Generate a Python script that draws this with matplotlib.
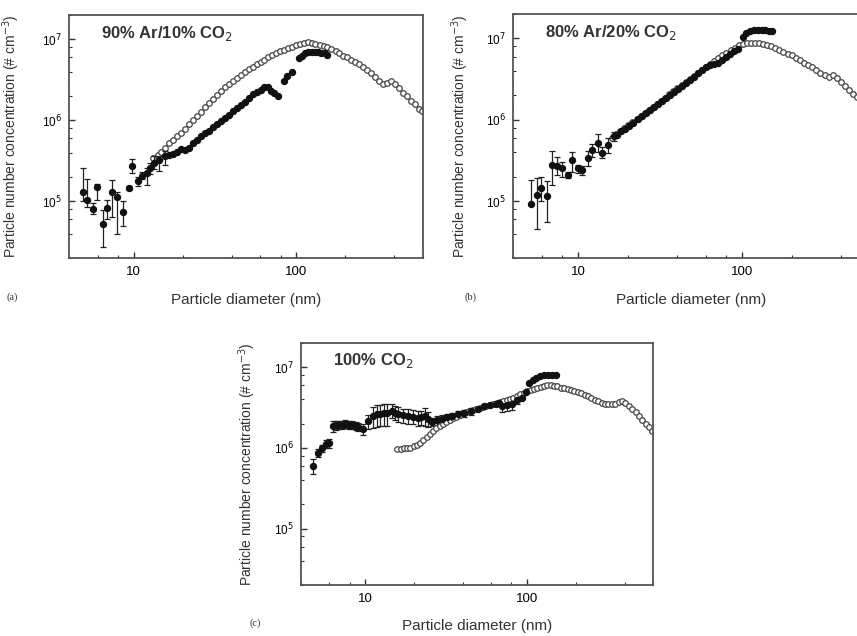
import numpy as np
import matplotlib
matplotlib.use('Agg')
import matplotlib.pyplot as plt
from matplotlib.ticker import LogLocator, NullFormatter, FixedLocator, FixedFormatter

plt.rcParams['font.family'] = ['Liberation Sans', 'DejaVu Sans']

# (a) 90% Ar / 10% CO2
a_err_d = [4.87, 5.17, 5.6, 5.95, 6.44, 6.84, 7.35, 7.87, 8.53, 9.29, 9.82, 10.6, 11.2, 12.0, 12.5, 13.4, 14.4, 15.5]
a_err_c = [1.32e5, 1.03e5, 8e4, 1.5e5, 5.2e4, 8.4e4, 1.32e5, 1.12e5, 7.4e4, 1.48e5, 2.74e5, 1.8e5, 2.08e5, 2.25e5, 2.6e5, 3e5, 3.25e5, 3.6e5]
a_err_lo = [1.0e5, 8.5e4, 7e4, 1.05e5, 2.7e4, 6e4, 6.4e4, 4e4, 5e4, 1.4e5, 2.27e5, 1.55e5, 1.9e5, 1.6e5, 2.2e5, 2.5e5, 2.4e5, 2.8e5]
a_err_hi = [2.6e5, 1.9e5, 9.5e4, 1.65e5, 7.8e4, 1.05e5, 1.85e5, 1.3e5, 1.0e5, 1.55e5, 3.3e5, 2.0e5, 2.3e5, 2.6e5, 3.0e5, 3.6e5, 3.6e5, 4.2e5]
a_fill_d = [16.5, 17.4, 18.4, 19.6, 20.8, 22.0, 23.3, 24.6, 26.0, 27.5, 29.0, 30.7, 32.5, 34.4, 36.4, 38.5, 40.7, 43.0,
            45.5, 48.1, 50.9, 53.8, 56.9, 60.2, 63.6, 67.3, 70.0, 73.0, 76.6, 83.3, 88.0, 94.6, 103, 108, 113, 118,
            124, 130, 136, 142, 149, 155]
a_fill_c = [3.7e5, 3.8e5, 4.1e5, 4.4e5, 4.3e5, 4.6e5, 5.2e5, 5.8e5, 6.5e5, 7.0e5, 7.5e5, 8.2e5, 8.9e5, 9.7e5, 1.07e6,
            1.18e6, 1.3e6, 1.42e6, 1.55e6, 1.7e6, 1.9e6, 2.1e6, 2.25e6, 2.4e6, 2.55e6, 2.6e6, 2.3e6, 2.15e6, 2.0e6,
            3.1e6, 3.5e6, 4.0e6, 5.9e6, 6.3e6, 6.7e6, 6.9e6, 7.0e6, 7.0e6, 6.9e6, 6.8e6, 6.7e6, 6.5e6]
a_open_d = [13.2, 14.0, 14.8, 15.6, 16.5, 17.4, 18.4, 19.6, 20.8, 22.0, 23.3, 24.6, 26.0, 27.5, 29.0, 30.7, 32.5, 34.4,
            36.4, 38.5, 40.7, 43.0, 45.5, 48.1, 50.9, 53.8, 56.9, 60.2, 63.6, 67.3, 71.2, 75.3, 79.6, 84.2, 89.0, 94.1,
            99.5, 105, 111, 117, 124, 131, 139, 147, 155, 164, 174, 184, 194, 205, 217, 230, 243, 257, 272, 288, 304,
            322, 340, 360, 381, 403, 426, 451, 477, 505, 534, 565, 590]
a_open_c = [3.4e5, 3.7e5, 4.1e5, 4.6e5, 5.2e5, 5.8e5, 6.4e5, 7.0e5, 7.9e5, 8.9e5, 1.0e6, 1.12e6, 1.28e6, 1.45e6, 1.65e6,
            1.85e6, 2.05e6, 2.3e6, 2.55e6, 2.8e6, 3.05e6, 3.3e6, 3.6e6, 3.95e6, 4.25e6, 4.55e6, 4.9e6, 5.25e6, 5.6e6,
            6.0e6, 6.35e6, 6.7e6, 7.1e6, 7.5e6, 7.8e6, 8.1e6, 8.5e6, 8.8e6, 9.0e6, 9.3e6, 9.0e6, 8.8e6, 8.5e6, 8.3e6,
            8.1e6, 7.6e6, 7.1e6, 6.7e6, 6.3e6, 6.0e6, 5.6e6, 5.2e6, 4.9e6, 4.55e6, 4.2e6, 3.8e6, 3.4e6, 3.1e6, 2.8e6,
            2.9e6, 3.1e6, 2.8e6, 2.5e6, 2.2e6, 2.0e6, 1.75e6, 1.6e6, 1.4e6, 1.3e6]

# (b) 80% Ar / 20% CO2
b_err_d = [5.17, 5.6, 5.95, 6.47, 6.94, 7.4, 8.0, 8.6, 9.2, 10.0, 10.6, 11.5, 12.2, 13.1, 14.0, 15.2, 16.4]
b_err_c = [9.2e4, 1.18e5, 1.45e5, 1.15e5, 2.8e5, 2.7e5, 2.55e5, 2.1e5, 3.2e5, 2.55e5, 2.4e5, 3.4e5, 4.3e5, 5.2e5, 3.9e5, 4.9e5, 6.3e5]
b_err_lo = [9.0e4, 4.5e4, 1.0e5, 5.5e4, 1.6e5, 2.1e5, 2.0e5, 1.9e5, 2.3e5, 2.2e5, 2.1e5, 2.7e5, 3.5e5, 4.0e5, 3.4e5, 3.9e5, 5.5e5]
b_err_hi = [1.8e5, 1.9e5, 2.0e5, 1.75e5, 4.1e5, 3.5e5, 3.0e5, 2.3e5, 4.0e5, 2.8e5, 2.7e5, 4.1e5, 5.1e5, 6.6e5, 4.6e5, 6.0e5, 7.0e5]
b_fill_d = [17.3, 18.3, 19.4, 20.5, 21.7, 23.0, 24.3, 25.7, 27.2, 28.8, 30.5, 32.3, 34.2, 36.2, 38.3, 40.5, 42.9, 45.4,
            48.0, 50.8, 53.8, 56.9, 60.2, 63.7, 67.4, 71.3, 75.5, 79.9, 84.5, 89.4, 94.6, 101, 106, 112, 118, 124,
            131, 138, 145, 152]
b_fill_c = [6.5e5, 7.2e5, 7.8e5, 8.4e5, 9.2e5, 1.03e6, 1.12e6, 1.22e6, 1.33e6, 1.45e6, 1.57e6, 1.7e6, 1.85e6, 2.0e6,
            2.2e6, 2.4e6, 2.6e6, 2.85e6, 3.1e6, 3.4e6, 3.8e6, 4.1e6, 4.4e6, 4.7e6, 4.9e6, 5.0e6, 5.4e6, 5.9e6, 6.4e6,
            7.0e6, 7.5e6, 1.05e7, 1.18e7, 1.24e7, 1.26e7, 1.27e7, 1.27e7, 1.26e7, 1.25e7, 1.25e7]
b_open_d = [16.0, 17.0, 18.0, 19.1, 20.2, 21.4, 22.7, 24.0, 25.4, 26.9, 28.5, 30.2, 32.0, 33.9, 35.9, 38.0, 40.2, 42.6,
            45.1, 47.8, 50.6, 53.6, 56.8, 60.1, 63.7, 67.4, 71.4, 75.6, 80.0, 84.8, 89.8, 95.1, 101, 107, 113, 120,
            127, 134, 142, 150, 159, 168, 178, 189, 200, 212, 224, 238, 252, 267, 282, 299, 317, 336, 356, 377, 399,
            423, 448, 474, 502, 532, 563, 596]
b_open_c = [6.0e5, 6.6e5, 7.2e5, 7.9e5, 8.6e5, 9.4e5, 1.03e6, 1.12e6, 1.22e6, 1.33e6, 1.45e6, 1.58e6, 1.72e6, 1.88e6,
            2.05e6, 2.25e6, 2.45e6, 2.67e6, 2.9e6, 3.15e6, 3.45e6, 3.75e6, 4.1e6, 4.45e6, 4.85e6, 5.3e6, 5.75e6, 6.2e6,
            6.7e6, 7.2e6, 7.7e6, 8.2e6, 8.6e6, 8.8e6, 8.9e6, 8.9e6, 8.8e6, 8.6e6, 8.4e6, 8.1e6, 7.7e6, 7.3e6, 6.9e6,
            6.5e6, 6.2e6, 5.8e6, 5.4e6, 5.0e6, 4.7e6, 4.4e6, 4.1e6, 3.8e6, 3.6e6, 3.4e6, 3.6e6, 3.3e6, 2.9e6, 2.6e6,
            2.35e6, 2.1e6, 1.9e6, 1.7e6, 1.5e6, 1.35e6]

# (c) 100% CO2
c_fill_d = [4.73, 5.08, 5.37, 5.7, 6.0, 6.27, 6.55, 6.8, 7.15, 7.5, 7.9, 8.3, 8.7, 9.06, 9.7, 10.4, 11.2, 11.8, 12.3,
            13.0, 13.6, 14.6, 15.3, 16.0, 17.2, 18.4, 19.7, 21.1, 22.2, 23.3, 24.5, 25.8, 27.6, 29.6, 31.8, 34.2, 37.5,
            41.0, 45.0, 49.5, 54.0, 59.0, 64.0, 67.0, 70.3, 75.0, 81, 87, 93, 98, 103, 108, 113, 120, 127, 134, 142, 150]
c_fill_c = [6.0e5, 8.7e5, 1.0e6, 1.12e6, 1.15e6, 1.88e6, 1.9e6, 1.93e6, 1.95e6, 1.98e6, 1.95e6, 1.93e6, 1.88e6, 1.82e6,
            1.72e6, 2.16e6, 2.5e6, 2.6e6, 2.65e6, 2.7e6, 2.7e6, 2.9e6, 2.75e6, 2.65e6, 2.55e6, 2.5e6, 2.45e6, 2.36e6,
            2.4e6, 2.5e6, 2.3e6, 2.1e6, 2.2e6, 2.3e6, 2.4e6, 2.5e6, 2.6e6, 2.7e6, 2.85e6, 3.05e6, 3.3e6, 3.45e6, 3.55e6,
            3.6e6, 3.3e6, 3.4e6, 3.5e6, 3.9e6, 4.2e6, 4.9e6, 6.4e6, 7.0e6, 7.4e6, 7.8e6, 8.1e6, 8.1e6, 8.1e6, 8.1e6]
c_fill_rel = [0.2, 0.1, 0.1, 0.12, 0.12, 0.15, 0.12, 0.12, 0.12, 0.12, 0.12, 0.12, 0.12, 0.12, 0.15, 0.2, 0.3, 0.3,
              0.3, 0.3, 0.3, 0.2, 0.2, 0.2, 0.2, 0.2, 0.2, 0.2, 0.2, 0.25, 0.2, 0.12, 0.12, 0.12, 0.1, 0.1, 0.1, 0.1,
              0.1, 0, 0, 0, 0, 0, 0.15, 0.15, 0.15, 0.1, 0, 0, 0, 0, 0, 0, 0, 0, 0, 0]
c_open_d = [15.7, 16.5, 17.3, 18.1, 18.9, 19.9, 20.8, 21.7, 22.8, 23.9, 25.1, 26.3, 27.5, 28.8, 30.2, 31.7, 33.2, 34.7,
            36.4, 38.2, 40.0, 42.0, 44.0, 46.2, 48.5, 50.9, 53.4, 56.0, 58.8, 61.7, 64.7, 67.9, 71.2, 74.7, 78.4, 82.3,
            86.3, 90.6, 95.1, 99.8, 105, 110, 115, 121, 127, 133, 140, 147, 154, 162, 170, 178, 187, 196, 206, 216,
            227, 238, 250, 262, 275, 289, 303, 318, 334, 351, 368, 386, 405, 425, 446, 468, 491, 515, 541, 567, 590]
c_open_c = [9.7e5, 9.8e5, 9.9e5, 1.0e6, 1.0e6, 1.05e6, 1.1e6, 1.15e6, 1.25e6, 1.35e6, 1.5e6, 1.6e6, 1.75e6, 1.88e6,
            2.0e6, 2.1e6, 2.25e6, 2.36e6, 2.45e6, 2.55e6, 2.7e6, 2.8e6, 2.9e6, 2.95e6, 3.05e6, 3.15e6, 3.25e6, 3.3e6,
            3.45e6, 3.55e6, 3.65e6, 3.75e6, 3.85e6, 3.95e6, 4.1e6, 4.2e6, 4.4e6, 4.6e6, 4.8e6, 5.1e6, 5.2e6, 5.4e6,
            5.5e6, 5.7e6, 5.9e6, 6.0e6, 6.0e6, 5.9e6, 5.8e6, 5.6e6, 5.5e6, 5.4e6, 5.3e6, 5.1e6, 4.9e6, 4.75e6, 4.55e6,
            4.35e6, 4.15e6, 3.95e6, 3.8e6, 3.65e6, 3.55e6, 3.55e6, 3.5e6, 3.55e6, 3.7e6, 3.8e6, 3.6e6, 3.35e6, 3.05e6,
            2.8e6, 2.5e6, 2.25e6, 2.0e6, 1.8e6, 1.6e6]

titles = ['90% Ar/10% CO$_2$', '80% Ar/20% CO$_2$', '100% CO$_2$']
panel_tags = ['(a)', '(b)', '(c)']
x_ticks = [10, 100]
y_ticks = [1e5, 1e6, 1e7]
y_ticklabels = ['10$^5$', '10$^6$', '10$^7$']

W, H = 857, 636
fig = plt.figure(figsize=(W / 100, H / 100), dpi=100)


def px_axes(x0, y0, x1, y1):
    return fig.add_axes([x0 / W, 1 - y1 / H, (x1 - x0) / W, (y1 - y0) / H])


def style(ax, title, ylab_gap, xlab_gap=35):
    ax.set_xscale('log')
    ax.set_yscale('log')
    ax.set_xlim(4, 600)
    ax.set_ylim(2e4, 2e7)
    ax.xaxis.set_major_locator(FixedLocator(x_ticks))
    ax.xaxis.set_major_formatter(FixedFormatter(['10', '100']))
    ax.xaxis.set_minor_locator(LogLocator(base=10, subs=[2, 4, 6, 8]))
    ax.xaxis.set_minor_formatter(NullFormatter())
    ax.yaxis.set_major_locator(FixedLocator(y_ticks))
    ax.yaxis.set_major_formatter(FixedFormatter(y_ticklabels))
    ax.yaxis.set_minor_locator(LogLocator(base=10, subs=[2, 4, 6, 8]))
    ax.yaxis.set_minor_formatter(NullFormatter())
    ax.tick_params(which='both', direction='in', top=False, right=False, color='#333333')
    ax.tick_params(which='major', length=4, width=1)
    ax.tick_params(which='minor', length=2.5, width=0.8)
    ax.tick_params(axis='x', labelsize=9.5, pad=6)
    ax.tick_params(axis='y', labelsize=8.5, pad=5)
    for s in ax.spines.values():
        s.set_color('#555555')
        s.set_linewidth(1.3)
    ax.set_xlabel('Particle diameter (nm)', fontsize=11, color='#333333')
    ax.set_ylabel('Particle number concentration (# cm$^{-3}$)', fontsize=10, color='#333333')
    bb = ax.get_position()
    ax.yaxis.set_label_coords(-ylab_gap / (bb.width * W), 0.5)
    ax.xaxis.set_label_coords(0.5, -xlab_gap / (bb.height * H))
    ax.text(0.09, 0.965, title, transform=ax.transAxes, fontsize=12, fontweight='bold',
            va='top', ha='left', color='#333333')


open_kw = dict(ls='none', marker='o', ms=4.0, mfc='white', mec='#444444', mew=0.9)
fill_kw = dict(ls='none', marker='o', ms=4.3, color='#111111')
err_kw = dict(fmt='o', ms=4.3, color='#111111', ecolor='#222222', elinewidth=0.9, capsize=2.5, capthick=0.9)

ax_a = px_axes(69, 15, 423, 258)
ax_a.plot(a_open_d, a_open_c, **open_kw)
ax_a.plot(a_fill_d, a_fill_c, **fill_kw)
ea = np.array(a_err_c)
ax_a.errorbar(a_err_d, a_err_c, yerr=[ea - np.array(a_err_lo), np.array(a_err_hi) - ea], **err_kw)
style(ax_a, titles[0], 47)

ax_b = px_axes(513, 14, 870, 258)
ax_b.plot(b_open_d, b_open_c, **open_kw)
ax_b.plot(b_fill_d, b_fill_c, **fill_kw)
eb = np.array(b_err_c)
ax_b.errorbar(b_err_d, b_err_c, yerr=[eb - np.array(b_err_lo), np.array(b_err_hi) - eb], **err_kw)
style(ax_b, titles[1], 42)

ax_c = px_axes(301, 343, 653, 585)
cc = np.array(c_fill_c)
ce = cc * np.array(c_fill_rel)
ax_c.errorbar(c_fill_d, c_fill_c, yerr=ce, **err_kw)
ax_c.plot(c_open_d, c_open_c, **open_kw)
style(ax_c, titles[2], 43, 34)

for tag, (x, y) in zip(panel_tags, [(12, 297), (470, 297), (255, 623)]):
    fig.text(x / W, 1 - y / H, tag, fontsize=7.5, family='Liberation Serif', ha='center', va='center', color='#333333')

fig.savefig('out.png', dpi=100)
